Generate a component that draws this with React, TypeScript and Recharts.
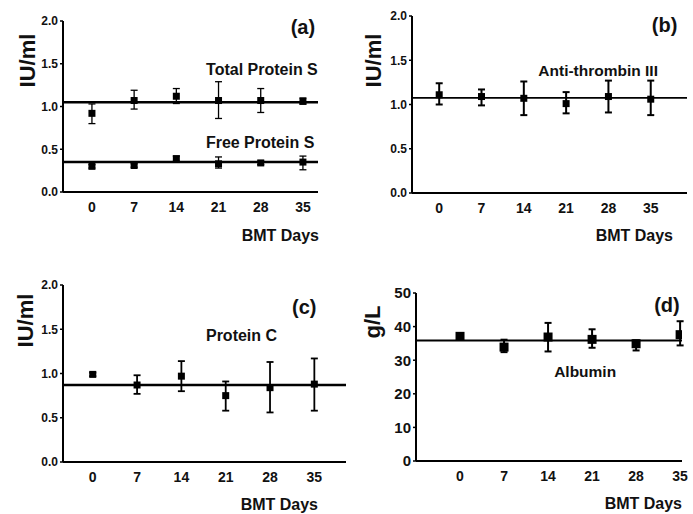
import React from "react";
import {
  ComposedChart,
  Scatter,
  ErrorBar,
  XAxis,
  YAxis,
  ReferenceLine,
  ReferenceDot,
} from "recharts";

const days = [0, 7, 14, 21, 28, 35];

// (a) protein S
const totalS = [0.92, 1.07, 1.12, 1.07, 1.07, 1.06];
const totalSLow = [0.8, 0.97, 1.035, 0.86, 0.93, 1.03];
const totalSHigh = [1.03, 1.19, 1.21, 1.29, 1.21, 1.1];
const totalSMean = 1.05;
const freeS = [0.3, 0.31, 0.39, 0.33, 0.34, 0.35];
const freeSLow = [0.28, 0.29, 0.36, 0.28, 0.32, 0.26];
const freeSHigh = [0.32, 0.33, 0.42, 0.41, 0.36, 0.42];
const freeSMean = 0.35;

// (b) anti-thrombin III
const atIII = [1.11, 1.09, 1.07, 1.01, 1.09, 1.06];
const atIIILow = [1.0, 0.99, 0.88, 0.9, 0.91, 0.88];
const atIIIHigh = [1.24, 1.17, 1.26, 1.14, 1.27, 1.27];
const atIIIMean = 1.075;

// (c) protein C
const proteinC = [0.99, 0.87, 0.97, 0.75, 0.84, 0.88];
const proteinCLow = [0.97, 0.77, 0.8, 0.58, 0.56, 0.58];
const proteinCHigh = [1.01, 0.98, 1.14, 0.91, 1.13, 1.17];
const proteinCMean = 0.87;

// (d) albumin
const albumin = [37.1, 33.9, 36.9, 36.2, 34.9, 37.6];
const albuminLow = [36.6, 32.4, 32.6, 33.7, 32.9, 34.4];
const albuminHigh = [37.6, 36.1, 41.1, 39.2, 35.9, 41.6];
const albuminMean = 35.9;

const iuTicks = [0, 0.5, 1, 1.5, 2];
const albTicks = [0, 10, 20, 30, 40, 50];

const INK = "#111";
const FONT = '"Liberation Sans", Arial, sans-serif';

interface Row {
  day: number;
  value: number;
  err: [number, number];
}

function buildRows(values: number[], low: number[], high: number[]): Row[] {
  return days.map((day, i) => ({
    day,
    value: values[i],
    err: [values[i] - low[i], high[i] - values[i]],
  }));
}

interface Note {
  text: string;
  day: number;
  value: number;
  size: number;
}

interface Series {
  rows: Row[];
  mean: number;
}

interface PanelProps {
  left: number;
  top: number;
  width: number;
  height: number;
  marginTop: number;
  marginRight: number;
  yWidth: number;
  xHeight: number;
  xDomain: [number, number];
  yDomain: [number, number];
  yTicks: number[];
  yFormat: (v: number) => string;
  yTickSize: number;
  yLabel: string;
  yLabelOffset: number;
  yLabelDy: number;
  bmtOffset: number;
  bmtDx: number;
  series: Series[];
  notes: Note[];
  marker: number;
  lineWidth: number;
  barWidth: number;
}

const square = (size: number) => (p: any) =>
  p.cx == null ? null : (
    <rect x={p.cx - size / 2} y={p.cy - size / 2} width={size} height={size} fill="#000" />
  );

function Panel(p: PanelProps) {
  return (
    <div style={{ position: "absolute", left: p.left, top: p.top }}>
      <ComposedChart
        width={p.width}
        height={p.height}
        margin={{ top: p.marginTop, right: p.marginRight, left: 0, bottom: 0 }}
      >
        <XAxis
          type="number"
          dataKey="day"
          domain={p.xDomain}
          ticks={days}
          interval={0}
          allowDataOverflow
          height={p.xHeight}
          tickLine={false}
          tickSize={6}
          tickMargin={4}
          axisLine={{ stroke: "#000", strokeWidth: 2 }}
          tick={{ fill: INK, fontSize: 14, fontWeight: "bold" }}
          label={{
            value: "BMT Days",
            position: "insideBottomRight",
            offset: p.bmtOffset,
            dx: p.bmtDx,
            fill: INK,
            fontSize: 16,
            fontWeight: "bold",
          }}
        />
        <YAxis
          type="number"
          dataKey="value"
          domain={p.yDomain}
          ticks={p.yTicks}
          interval={0}
          allowDataOverflow
          width={p.yWidth}
          tickFormatter={p.yFormat}
          tickSize={3}
          tickMargin={2}
          tickLine={{ stroke: "#000", strokeWidth: 1.5 }}
          axisLine={{ stroke: "#000", strokeWidth: 2 }}
          tick={{ fill: INK, fontSize: p.yTickSize, fontWeight: "bold" }}
          label={{
            value: p.yLabel,
            angle: -90,
            position: "insideLeft",
            offset: p.yLabelOffset,
            dy: p.yLabelDy,
            fill: INK,
            fontSize: 22,
            fontWeight: "bold",
            style: { textAnchor: "middle" },
          }}
        />
        {p.series.map((s, i) => (
          <ReferenceLine
            key={`m${i}`}
            y={s.mean}
            stroke="#000"
            strokeWidth={p.lineWidth}
          />
        ))}
        {p.series.map((s, i) => (
          <Scatter
            key={`s${i}`}
            data={s.rows}
            dataKey="value"
            fill="#000"
            shape={square(p.marker)}
            isAnimationActive={false}
          >
            <ErrorBar
              dataKey="err"
              direction="y"
              width={3.5}
              stroke="#000"
              strokeWidth={p.barWidth}
              isAnimationActive={false}
            />
          </Scatter>
        ))}
        {p.notes.map((n, i) => (
          <ReferenceDot
            key={`n${i}`}
            x={n.day}
            y={n.value}
            r={0}
            fill="none"
            stroke="none"
            label={{
              value: n.text,
              position: "center",
              fill: INK,
              fontSize: n.size,
              fontWeight: "bold",
            }}
          />
        ))}
      </ComposedChart>
    </div>
  );
}

const oneDecimal = (v: number) => v.toFixed(1);
const whole = (v: number) => String(v);

export default function App() {
  return (
    <div
      style={{
        position: "absolute",
        left: 0,
        top: 0,
        width: 693,
        height: 514,
        background: "#fff",
        fontFamily: FONT,
        overflow: "hidden",
      }}
    >
      <Panel
        left={0}
        top={0}
        width={340}
        height={250}
        marginTop={21}
        marginRight={22}
        yWidth={63}
        xHeight={58}
        xDomain={[-4.8, 37.5]}
        yDomain={[0, 2]}
        yTicks={iuTicks}
        yFormat={oneDecimal}
        yTickSize={12}
        yLabel="IU/ml"
        yLabelOffset={27}
        yLabelDy={-46}
        bmtOffset={9}
        bmtDx={10}
        series={[
          { rows: buildRows(totalS, totalSLow, totalSHigh), mean: totalSMean },
          { rows: buildRows(freeS, freeSLow, freeSHigh), mean: freeSMean },
        ]}
        notes={[
          { text: "(a)", day: 35, value: 1.93, size: 20 },
          { text: "Total Protein S", day: 28.2, value: 1.44, size: 16 },
          { text: "Free Protein S", day: 27.9, value: 0.585, size: 16 },
        ]}
        marker={7}
        lineWidth={2.5}
        barWidth={1.3}
      />
      <Panel
        left={340}
        top={0}
        width={353}
        height={250}
        marginTop={16}
        marginRight={6}
        yWidth={72}
        xHeight={57}
        xDomain={[-4.5, 41]}
        yDomain={[0, 2]}
        yTicks={iuTicks}
        yFormat={oneDecimal}
        yTickSize={12}
        yLabel="IU/ml"
        yLabelOffset={33}
        yLabelDy={-44}
        bmtOffset={9}
        bmtDx={-5}
        series={[{ rows: buildRows(atIII, atIIILow, atIIIHigh), mean: atIIIMean }]}
        notes={[
          { text: "(b)", day: 37.3, value: 1.9, size: 20 },
          { text: "Anti-thrombin III", day: 26.3, value: 1.38, size: 15.5 },
        ]}
        marker={7}
        lineWidth={1.8}
        barWidth={2}
      />
      <Panel
        left={0}
        top={250}
        width={346}
        height={264}
        marginTop={35}
        marginRight={0}
        yWidth={63}
        xHeight={52}
        xDomain={[-4.7, 40]}
        yDomain={[0, 2]}
        yTicks={iuTicks}
        yFormat={oneDecimal}
        yTickSize={12}
        yLabel="IU/ml"
        yLabelOffset={25}
        yLabelDy={-53}
        bmtOffset={4}
        bmtDx={-24}
        series={[{ rows: buildRows(proteinC, proteinCLow, proteinCHigh), mean: proteinCMean }]}
        notes={[
          { text: "(c)", day: 33.4, value: 1.75, size: 20 },
          { text: "Protein C", day: 23.5, value: 1.435, size: 16 },
        ]}
        marker={7}
        lineWidth={2.5}
        barWidth={1.8}
      />
      <Panel
        left={340}
        top={250}
        width={353}
        height={264}
        marginTop={43}
        marginRight={11}
        yWidth={76}
        xHeight={53}
        xDomain={[-7, 35.3]}
        yDomain={[0, 50]}
        yTicks={albTicks}
        yFormat={whole}
        yTickSize={15}
        yLabel="g/L"
        yLabelOffset={32}
        yLabelDy={-55}
        bmtOffset={5}
        bmtDx={5}
        series={[{ rows: buildRows(albumin, albuminLow, albuminHigh), mean: albuminMean }]}
        notes={[
          { text: "(d)", day: 32.9, value: 46.4, size: 20 },
          { text: "Albumin", day: 19.9, value: 26.5, size: 15.5 },
        ]}
        marker={9}
        lineWidth={2}
        barWidth={2}
      />
    </div>
  );
}
